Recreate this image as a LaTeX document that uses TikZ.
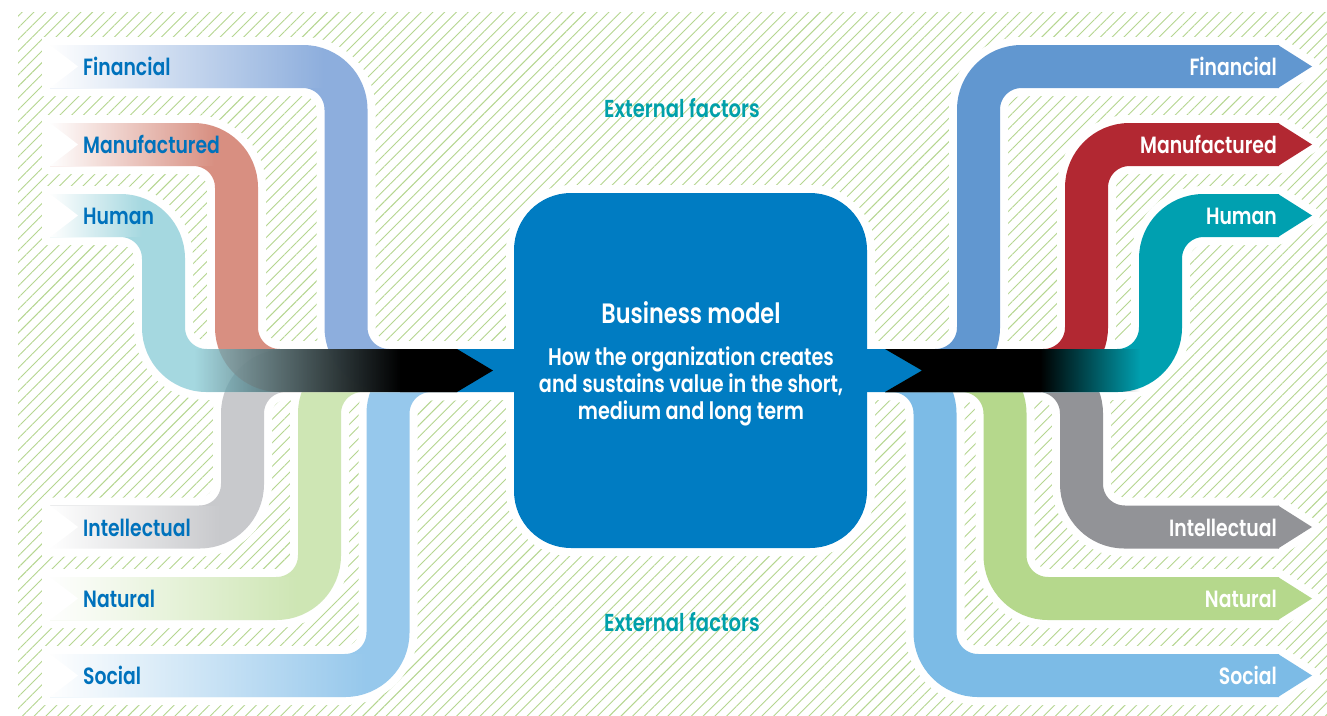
\documentclass[tikz,border=0pt]{standalone}
\usepackage{fontspec}
\usetikzlibrary{patterns.meta,fadings}
\newfontfamily\capfont{Poppins SemiBold}[FakeStretch=0.8]

\definecolor{hatch}{RGB}{181,214,143}
\definecolor{boxblue}{RGB}{0,124,194}
\definecolor{labelblue}{RGB}{0,114,188}
\definecolor{extteal}{RGB}{0,160,170}
\definecolor{finL}{RGB}{103,148,210}
\definecolor{manL}{RGB}{204,106,88}
\definecolor{humL}{RGB}{135,203,214}
\definecolor{intL}{RGB}{182,183,188}
\definecolor{natL}{RGB}{190,222,155}
\definecolor{socL}{RGB}{115,182,230}
\definecolor{finR}{RGB}{97,151,208}
\definecolor{manR}{RGB}{178,40,50}
\definecolor{humR}{RGB}{0,160,176}
\definecolor{intR}{RGB}{146,147,151}
\definecolor{natR}{RGB}{181,216,140}
\definecolor{socR}{RGB}{124,187,230}

\tikzfading[name=fade out right,left color=transparent!0,right color=transparent!100]
\tikzfading[name=fade in right,left color=transparent!100,right color=transparent!0]

\begin{document}
\begin{tikzpicture}[x=1pt,y=-1pt,
  halo/.style={draw=white,line width=59pt,rounded corners=43pt},
  band/.style={line width=43pt,rounded corners=43pt},
  haloline/.style={white,line width=16pt,line join=round},
  lefttxt/.style={font=\capfont\fontsize{23.5}{24}\selectfont,text=labelblue,anchor=base west,inner sep=0pt},
  righttxt/.style={font=\capfont\fontsize{23.5}{24}\selectfont,text=white,anchor=base east,inner sep=0pt},
  exttxt/.style={font=\capfont\fontsize{24.5}{25}\selectfont,text=extteal,anchor=base,inner sep=0pt},
  bmtitle/.style={font=\capfont\fontsize{28}{28}\selectfont,text=white,anchor=base,inner sep=0pt},
  bmline/.style={font=\capfont\fontsize{24}{24}\selectfont,text=white,anchor=base,inner sep=0pt}]
\useasboundingbox (0,0) rectangle (1327,715);
\fill[white] (0,0) rectangle (1327,715);
\fill[pattern={Lines[angle=45,distance=8.3pt,line width=0.9pt]},pattern color=hatch] (18,12) rectangle (1327,715);

% white borders
\foreach \yb/\xv in {66.5/346,144.5/236.5,215.5/163.5,527/242.5,598.5/319.5,675.5/388}
  \draw[halo] (42,\yb) -- (\xv,\yb) -- (\xv,370.5) -- (457,370.5);
\foreach \yb/\xv in {66.5/978.5,144.5/1086.5,215.5/1160.5,527/1081.5,598.5/1005,675.5/935}
  {\draw[halo] (885,370.5) -- (\xv,370.5) -- (\xv,\yb) -- (1278,\yb);
   \filldraw[haloline] (1278,\yb-21.5) -- (1312,\yb) -- (1278,\yb+21.5) -- cycle;}
\filldraw[haloline,rounded corners=57pt] (514,193) rectangle (867,548);
\filldraw[haloline] (457,349) -- (885,349) -- (922,370.5) -- (885,392) -- (457,392) -- cycle;

% capitals in
\foreach \yb/\xv/\col in {675.5/388/socL,598.5/319.5/natL,527/242.5/intL,66.5/346/finL,144.5/236.5/manL,215.5/163.5/humL}
  {\draw[band,draw=\col,draw opacity=0.75] (50,\yb) -- (\xv,\yb) -- (\xv,370.5) -- (457,370.5);
   \fill[white,path fading=fade out right] (50,\yb-21.5) rectangle (\xv-21.5,\yb+21.5);
   \fill[white] (50,\yb-21.5) -- (78,\yb) -- (50,\yb+21.5) -- cycle;}

% capitals out
\foreach \yb/\xv/\col in {675.5/935/socR,598.5/1005/natR,527/1081.5/intR,66.5/978.5/finR,144.5/1086.5/manR,215.5/1160.5/humR}
  {\draw[band,draw=\col] (885,370.5) -- (\xv,370.5) -- (\xv,\yb) -- (1279,\yb);
   \fill[\col] (1278,\yb-21.5) -- (1312,\yb) -- (1278,\yb+21.5) -- cycle;}

% business model
\fill[boxblue,rounded corners=57pt] (514,193) rectangle (867,548);
\fill[boxblue] (457,349) -- (885,349) -- (922,370.5) -- (885,392) -- (457,392) -- cycle;

\fill[black,path fading=fade in right] (195,349) rectangle (401,392);
\fill[black] (400,349) -- (457,349) -- (493,370.5) -- (457,392) -- (400,392) -- cycle;
\fill[black] (885,349) -- (1041,349) -- (1041,392) -- (885,392) -- (922,370.5) -- cycle;
\fill[black,path fading=fade out right] (1040,349) rectangle (1140,392);

\foreach \yb/\txt in {66.5/Financial,144.5/Manufactured,215.5/Human,527/Intellectual,598.5/Natural,675.5/Social}
  {\node[lefttxt] (in-\txt) at (83,\yb+9) {\txt};
   \node[righttxt] (out-\txt) at (1277,\yb+9) {\txt};}

\node[exttxt] (ext-top) at (682,117) {External factors};
\node[exttxt] (ext-bot) at (682,631) {External factors};

\node[bmtitle] (bm-title) at (691,323) {Business model};
\node[bmline] (bm-l1) at (691,365) {How the organization creates};
\node[bmline] (bm-l2) at (691,392) {and sustains value in the short,};
\node[bmline] (bm-l3) at (691,419) {medium and long term};
\end{tikzpicture}
\end{document}
